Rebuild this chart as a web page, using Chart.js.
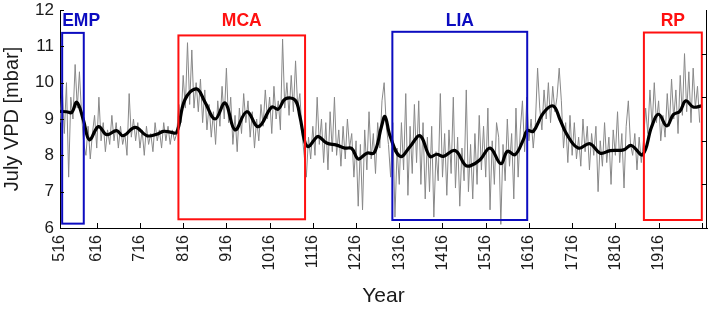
<!DOCTYPE html>
<html>
<head>
<meta charset="utf-8">
<script src="https://cdn.jsdelivr.net/npm/chart.js@4.4.1/dist/chart.umd.min.js"></script>
<style>
  html, body { margin: 0; padding: 0; background: #fff; }
</style>
</head>
<body>
<canvas id="vpd" width="710" height="311"></canvas>
<script>
// annual reconstruction, one value every 5 years from 531
const firstYear = 531;
const yearStep = 5;
const annualVpd = [
  8.9, 9.9, 8.6, 10.0, 7.4, 9.6, 9.0, 10.5, 9.3, 10.3, 9.1,
  8.3, 8.0, 8.8, 7.9, 8.6, 9.1, 8.2, 9.6, 8.4, 8.9,
  8.1, 8.7, 8.3, 9.1, 8.4, 8.9, 8.2, 8.8, 8.3, 8.6,
  8.0, 9.7, 8.5, 9.0, 8.4, 8.9, 8.2, 8.7, 8.0, 8.8,
  8.3, 8.6, 8.1, 8.9, 8.4, 8.7, 8.2, 8.9, 8.4, 8.8,
  8.3, 8.7, 8.4, 8.6,
  9.4, 8.9, 10.2, 9.3, 11.1, 9.4, 10.9, 9.3, 10.0, 9.2,
  10.1, 8.9, 9.8, 8.7, 9.4, 8.5, 9.2, 8.3, 9.5, 8.8,
  9.9, 9.0, 10.4, 8.9, 9.6, 8.3, 9.1, 8.1, 9.3, 8.6,
  9.7, 8.9, 9.5, 8.5, 9.2, 8.2, 9.0, 8.4, 9.4, 8.8,
  9.8, 9.0, 9.6, 8.6, 9.9, 9.0, 9.5, 8.7, 11.2, 9.3,
  10.0, 9.1, 10.2, 9.2, 10.6, 9.3, 9.7, 8.6,
  8.0, 7.4, 8.5, 7.9, 8.8, 8.0, 9.6, 8.3, 9.0, 7.8,
  8.9, 7.6, 9.2, 8.1, 9.6, 8.0, 8.7, 7.7, 8.8, 7.9,
  9.0, 8.2, 8.6, 7.4, 8.4, 6.6, 8.3, 6.5, 8.7, 7.6,
  9.2, 7.9, 8.6, 7.5, 8.9, 8.2, 9.5, 10.0, 8.8, 8.3,
  7.4, 8.9, 6.3, 8.2, 7.2, 8.9, 7.6, 9.7, 6.9, 8.8,
  7.5, 9.4, 7.8, 9.5, 7.2, 8.9, 6.8, 8.5, 7.0, 8.8,
  6.3, 8.1, 7.3, 9.7, 7.4, 8.6, 6.9, 8.7, 7.5, 9.6,
  7.1, 8.5, 6.6, 8.2, 7.3, 9.8, 7.0, 8.3, 6.8, 8.6,
  7.2, 9.1, 7.6, 8.8, 7.4, 9.3, 6.5, 8.4, 7.2, 8.9,
  8.5, 6.1, 8.3, 7.3, 9.0, 7.7, 8.6, 6.8, 9.3, 7.4,
  8.7, 9.5, 8.1,
  9.6, 8.4, 9.0, 8.2, 8.9, 10.4, 9.3, 8.7, 9.8, 9.0,
  10.0, 8.9, 9.9, 9.2, 9.6, 10.4, 9.5, 8.2, 8.9, 7.8,
  9.1, 8.0, 8.9, 7.9, 8.5, 7.7, 9.0, 8.1, 8.8, 7.6,
  8.6, 8.0, 8.8, 7.0, 8.4, 7.7, 8.9, 7.8, 8.5, 7.2,
  8.7, 8.0, 9.2, 7.8, 8.6, 7.1, 8.8, 9.5, 8.3, 8.0,
  8.6, 7.6, 8.5, 7.8,
  8.4, 9.3, 8.6, 9.8, 8.8, 10.0, 8.9, 9.5, 8.4, 9.1,
  8.5, 9.7, 8.8, 10.1, 9.0, 9.8, 8.6, 10.2, 9.1, 10.8,
  9.2, 10.3, 8.9, 10.4, 9.3, 9.9, 8.9
];

// low-pass filtered curve
const smoothYears = [
  531, 546, 558, 570, 585, 599, 620, 639, 662, 677, 705, 732, 755, 770, 786, 801,
  820, 847, 867, 890, 913, 936, 963, 990, 1021, 1036, 1052, 1075, 1086, 1098, 1106,
  1121, 1129, 1148, 1171, 1190, 1206, 1221, 1241, 1258, 1275, 1283, 1295, 1318,
  1341, 1364, 1387, 1403, 1418, 1445, 1468, 1480, 1503, 1526, 1551, 1566, 1584,
  1603, 1612, 1626, 1649, 1672, 1688, 1704, 1730, 1757, 1781, 1804, 1835, 1853,
  1879, 1900, 1916, 1935, 1950, 1965, 1979, 1996, 2016
];
const smoothVpd = [
  9.21, 9.20, 9.18, 9.46, 8.98, 8.43, 8.79, 8.57, 8.68, 8.54, 8.77, 8.54, 8.58, 8.66, 8.64, 8.63,
  9.53, 9.83, 9.45, 9.0, 9.44, 8.70, 9.20, 8.79, 9.33, 9.27, 9.55, 9.52, 9.07, 8.35, 8.24,
  8.45, 8.52, 8.34, 8.28, 8.20, 8.19, 7.90, 8.06, 8.07, 8.8, 9.07, 8.52, 7.97,
  8.24, 8.54, 7.97, 8.03, 7.97, 8.13, 7.74, 7.71, 7.88, 8.20, 7.77, 8.11, 8.02,
  8.43, 8.68, 8.66, 9.16, 9.36, 8.98, 8.57, 8.20, 8.32, 8.06, 8.13, 8.15, 8.27,
  8.02, 8.79, 9.13, 8.81, 9.12, 9.21, 9.50, 9.33, 9.36
];

// climate periods
const periodNames = ["EMP", "MCA", "LIA", "RP"];
const periodStart = [536, 805, 1300, 1882];
const periodEnd = [586, 1098, 1612, 2016];
const periodTop = [11.37, 11.30, 11.40, 11.38];
const periodBottom = [6.12, 6.24, 6.22, 6.22];

const xTickValues = [531, 616, 716, 816, 916, 1016, 1116, 1216, 1316, 1416, 1516, 1616, 1716, 1816, 1916, 2016];
const xTickLabels = ["516", "616", "716", "816", "916", "1016", "1116", "1216", "1316", "1416", "1516", "1616", "1716", "1816", "1916", ""];
const yTickValues = [6, 7, 8, 9, 10, 11, 12];

const FONT = "'Liberation Sans', Arial, sans-serif";
const periodColor = name => (name === "EMP" || name === "LIA" ? "#0c0cc0" : "#ff1010");

const annualPoints = annualVpd.map((v, i) => ({ x: firstYear + i * yearStep, y: v }));
const smoothPoints = smoothYears.map((yr, i) => ({ x: yr, y: smoothVpd[i] }));

const overlay = {
  id: "overlay",
  afterDatasetsDraw(chart) {
    const { ctx, chartArea: a, scales: { x, y } } = chart;
    ctx.save();
    periodNames.forEach((name, i) => {
      const l = x.getPixelForValue(periodStart[i]);
      const r = x.getPixelForValue(periodEnd[i]);
      const t = y.getPixelForValue(periodTop[i]);
      const b = y.getPixelForValue(periodBottom[i]);
      ctx.strokeStyle = periodColor(name);
      ctx.lineWidth = 2;
      ctx.strokeRect(l, t, r - l, b - t);
      ctx.fillStyle = periodColor(name);
      ctx.font = "bold 17.5px " + FONT;
      ctx.textBaseline = "middle";
      if (name === "EMP") {
        ctx.textAlign = "left";
        ctx.fillText(name, l, 21);
      } else {
        ctx.textAlign = "center";
        ctx.fillText(name, (l + r) / 2, 21);
      }
    });

    // spines and inward ticks
    ctx.strokeStyle = "#000";
    ctx.lineWidth = 1;
    ctx.beginPath();
    ctx.moveTo(a.right - 0.5, a.top);
    ctx.lineTo(a.right - 0.5, a.bottom);
    for (let k = 1; k < 5; k++) {
      const py = Math.round(a.top + (a.bottom - a.top) * k / 5) + 0.5;
      ctx.moveTo(a.right, py);
      ctx.lineTo(a.right - 5, py);
    }
    yTickValues.forEach(v => {
      const py = Math.round(y.getPixelForValue(v)) + 0.5;
      ctx.moveTo(a.left, py);
      ctx.lineTo(a.left + 4, py);
    });
    xTickValues.slice(1).forEach(v => {
      const px = Math.round(x.getPixelForValue(v)) + 0.5;
      ctx.moveTo(px, a.bottom);
      ctx.lineTo(px, a.bottom - 5);
    });
    ctx.stroke();
    ctx.restore();
  }
};

new Chart(document.getElementById("vpd"), {
  type: "line",
  data: {
    datasets: [
      {
        data: smoothPoints,
        borderColor: "#000",
        borderWidth: 3.2,
        pointRadius: 0,
        tension: 0.4,
        fill: false
      },
      {
        data: annualPoints,
        borderColor: "#888888",
        borderWidth: 1,
        pointRadius: 0,
        tension: 0,
        fill: false
      }
    ]
  },
  options: {
    responsive: false,
    devicePixelRatio: 1,
    animation: false,
    layout: { padding: { top: 10, right: 3, left: 0, bottom: 0 } },
    plugins: { legend: { display: false }, tooltip: { enabled: false } },
    scales: {
      x: {
        type: "linear",
        min: 531,
        max: 2028,
        afterBuildTicks: scale => {
          scale.ticks = xTickValues.map(v => ({ value: v }));
        },
        afterFit: scale => {
          scale.height = 83;
          scale.paddingLeft = 0;
          scale.paddingRight = 0;
        },
        grid: { display: false, drawTicks: false },
        border: { display: true, color: "#000", width: 1 },
        ticks: {
          autoSkip: false,
          minRotation: 90,
          maxRotation: 90,
          padding: 7,
          color: "#1a1a1a",
          font: { family: FONT, size: 16 },
          callback: (val, idx) => xTickLabels[idx]
        },
        title: {
          display: true,
          text: "Year",
          color: "#1a1a1a",
          font: { family: FONT, size: 21 },
          padding: { top: 0, bottom: 2 }
        }
      },
      y: {
        min: 6,
        max: 12,
        afterBuildTicks: scale => {
          scale.ticks = yTickValues.map(v => ({ value: v }));
        },
        afterFit: scale => {
          scale.width = 60;
          scale.paddingTop = 0;
          scale.paddingBottom = 0;
        },
        grid: { display: false, drawTicks: false },
        border: { display: true, color: "#000", width: 1 },
        ticks: {
          padding: 6,
          color: "#1a1a1a",
          font: { family: FONT, size: 17 }
        },
        title: {
          display: true,
          text: "July VPD [mbar]",
          color: "#1a1a1a",
          font: { family: FONT, size: 20 },
          padding: { top: 0, bottom: 0 }
        }
      }
    }
  },
  plugins: [overlay]
});
</script>
</body>
</html>
